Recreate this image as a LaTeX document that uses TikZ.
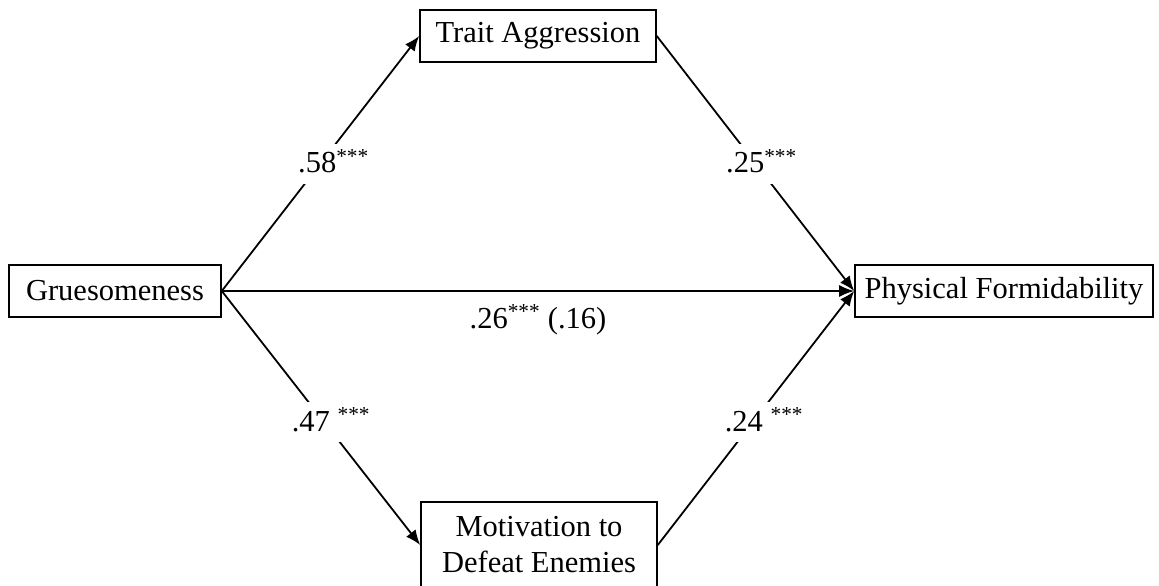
\documentclass[tikz,border=0pt]{standalone}
\usepackage{fontspec}
\setmainfont{Liberation Serif}
\usetikzlibrary{arrows.meta}
\begin{document}
\begin{tikzpicture}[x=1pt,y=-1pt,
  box/.style={draw, line width=1.6pt, font=\fontsize{30.5}{36}\selectfont, inner sep=0pt, minimum height=52pt},
  conn/.style={line width=1.8pt, -{Latex[length=15pt,width=12pt]}},
  lab/.style={fill=white, font=\fontsize{30.5}{36}\selectfont, inner sep=3pt, text height=26pt, text depth=8pt}]
\useasboundingbox (0,0) rectangle (1159,586);
\node[box, minimum width=212pt] (G) at (115,291) {Gruesomeness};
\node[box, minimum width=298pt] (P) at (1004,291) {Physical Formidability};
\node[box, minimum width=236pt] (T) at (538,36) {Trait Aggression};
\node[box, minimum width=236pt, minimum height=86pt, align=center] (M) at (539,545) {Motivation to\\Defeat Enemies};
\draw[conn] (G.east) -- (T.west) node[lab, pos=0.5, xshift=13pt] {.58\textsuperscript{***}};
\draw[conn] (T.east) -- (P.west) node[lab, pos=0.5, xshift=6pt] {.25\textsuperscript{***}};
\draw[conn] (G.east) -- (M.west) node[lab, pos=0.5, xshift=10pt, yshift=-4pt] {.47 \textsuperscript{***}};
\draw[conn] (M.east) -- (P.west) node[lab, pos=0.5, xshift=8pt, yshift=-4pt] {.24 \textsuperscript{***}};
\draw[conn] (G.east) -- (P.west) node[pos=0.5, anchor=base, yshift=-37pt, font=\fontsize{30.5}{36}\selectfont, inner sep=0pt] {.26\textsuperscript{***} (.16)};
\end{tikzpicture}
\end{document}
